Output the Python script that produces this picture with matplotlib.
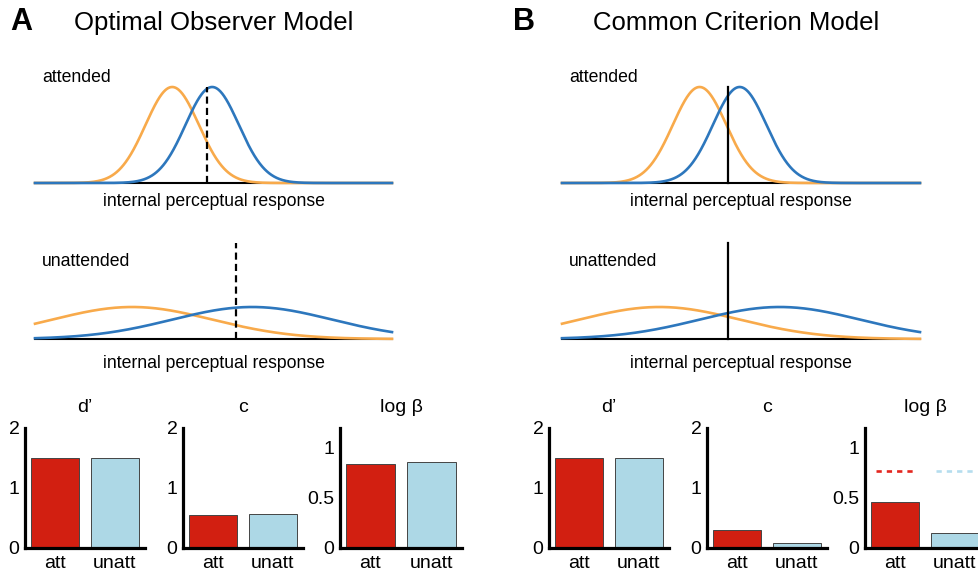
import numpy as np
import matplotlib
matplotlib.use("Agg")
import matplotlib.pyplot as plt

plt.rcParams["font.family"] = ["Liberation Sans", "DejaVu Sans"]

# signal detection model parameters (units of attended sigma)
noise_means = [-0.75, -2.25]      # attended, unattended
signal_means = [0.75, 2.25]
sigmas = [1.0, 3.0]
criteria_optimal = [0.55, 1.65]   # attended, unattended
criteria_common = [0.31, 0.31]
x_range = (-5.9, 7.5)

# bar values
conditions = ["att", "unatt"]
optimal_dprime = [1.5, 1.5]
optimal_c = [0.55, 0.57]
optimal_logbeta = [0.84, 0.86]
common_dprime = [1.5, 1.5]
common_c = [0.30, 0.09]
common_logbeta = [0.46, 0.15]
common_logbeta_ref = [0.77, 0.77]

orange = "#F8AA4B"
blue = "#2D77BD"
bar_colors = ["#D21F11", "#ADD8E6"]
ref_colors = ["#E3261E", "#B5DDEE"]

W, H = 979, 575
fig = plt.figure(figsize=(W / 100, H / 100), dpi=100)


def px_axes(x0, y0, x1, y1):
    return fig.add_axes([x0 / W, 1 - y1 / H, (x1 - x0) / W, (y1 - y0) / H])


def ftext(x, y, s, **kw):
    fig.text(x / W, 1 - y / H, s, **kw)


def gauss(x, m, s):
    return np.exp(-0.5 * ((x - m) / s) ** 2) / (s * np.sqrt(2 * np.pi))


x = np.linspace(x_range[0], x_range[1], 800)
peak = gauss(0, 0, sigmas[0])


def dist_panel(box, i, crit, dashed):
    ax = px_axes(*box)
    ax.plot(x, gauss(x, noise_means[i], sigmas[i]), color=orange, lw=1.9, zorder=3, clip_on=False)
    ax.plot(x, gauss(x, signal_means[i], sigmas[i]), color=blue, lw=1.9, zorder=3, clip_on=False)
    ls = (0, (3.2, 1.9)) if dashed else "-"
    ax.plot([crit, crit], [0, peak], color="black", lw=1.6, ls=ls, zorder=4, clip_on=False)
    ax.set_xlim(*x_range)
    ax.set_ylim(0, peak)
    for s in ["top", "right", "left"]:
        ax.spines[s].set_visible(False)
    ax.spines["bottom"].set_linewidth(1.5)
    ax.set_xticks([])
    ax.set_yticks([])
    ax.patch.set_alpha(0)
    return ax


def bar_panel(box, vals, title, ylim, yticks, yticklabels, ref=None):
    ax = px_axes(*box)
    pos = np.arange(1, len(vals) + 1)
    ax.bar(pos, vals, width=0.8, color=bar_colors, edgecolor="#444444", linewidth=0.7, zorder=2)
    if ref is not None:
        for p, r, col in zip(pos, ref, ref_colors):
            ax.hlines(r, p - 0.32, p + 0.32, color=col, lw=1.9, linestyles=(0, (2, 1.9)), clip_on=False)
    ax.set_xlim(0.5, 2.5)
    ax.set_ylim(*ylim)
    ax.set_xticks(pos)
    ax.set_xticklabels(conditions)
    ax.set_yticks(yticks)
    ax.set_yticklabels(yticklabels)
    ax.tick_params(length=0, labelsize=14)
    ax.tick_params(axis="y", pad=4)
    ax.tick_params(axis="x", pad=5)
    for s in ["top", "right"]:
        ax.spines[s].set_visible(False)
    for s in ["left", "bottom"]:
        ax.spines[s].set_linewidth(2.3)
        ax.spines[s].set_capstyle("projecting")
    ax.patch.set_alpha(0)
    ftext((box[0] + box[2]) / 2, 408, title, ha="center", va="center", fontsize=14)
    return ax


# panel titles
ftext(10, 22, "A", fontsize=22, fontweight="bold", va="center", ha="left")
ftext(74, 23, "Optimal Observer Model", fontsize=18.5, va="center", ha="left")
ftext(513, 22, "B", fontsize=22, fontweight="bold", va="center", ha="left")
ftext(593, 23, "Common Criterion Model", fontsize=18.5, va="center", ha="left")

# distributions
for x0, x1, crits, dashed in [(35, 392, criteria_optimal, True), (562, 920, criteria_common, False)]:
    dist_panel((x0, 87, x1, 183), 0, crits[0], dashed)
    dist_panel((x0, 243, x1, 339), 1, crits[1], dashed)
    ftext(x0 + 7, 78, "attended", fontsize=12.7, va="center", ha="left")
    ftext(x0 + 7, 262, "unattended", fontsize=12.7, va="center", ha="left")
    ftext((x0 + x1) / 2, 202, "internal perceptual response", fontsize=12.7, va="center", ha="center")
    ftext((x0 + x1) / 2, 363, "internal perceptual response", fontsize=12.7, va="center", ha="center")

# bars
yl2 = ((0, 2), [0, 1, 2], ["0", "1", "2"])
ylb = ((0, 1.2), [0, 0.5, 1], ["0", "0.5", "1"])
bar_panel((25, 428, 145, 548), optimal_dprime, "d’", *yl2)
bar_panel((183, 428, 303, 548), optimal_c, "c", *yl2)
bar_panel((340, 428, 462, 548), optimal_logbeta, "log β", *ylb)
bar_panel((549, 428, 669, 548), common_dprime, "d’", *yl2)
bar_panel((707, 428, 827, 548), common_c, "c", *yl2)
bar_panel((865, 428, 985, 548), common_logbeta, "log β", *ylb, ref=common_logbeta_ref)

fig.savefig("out.png", dpi=100)
